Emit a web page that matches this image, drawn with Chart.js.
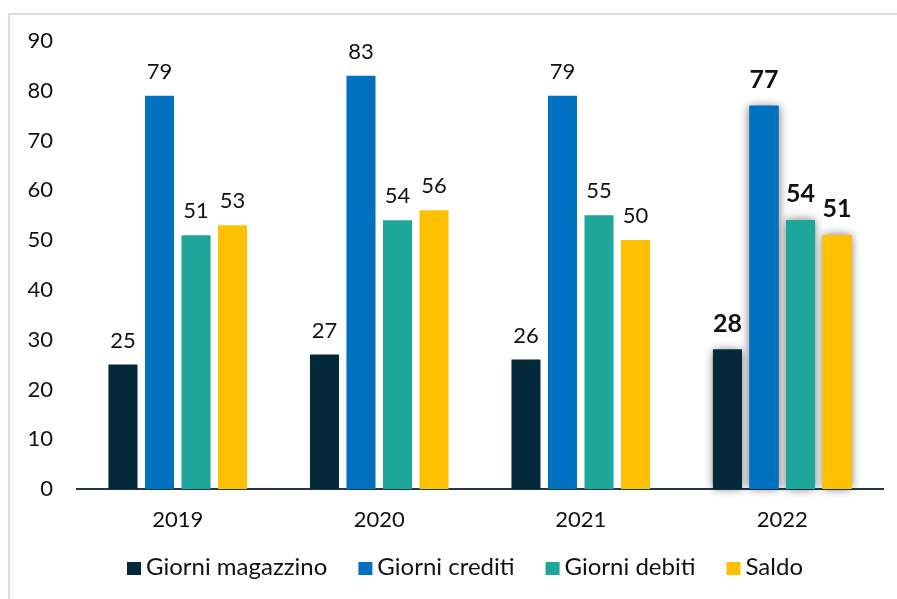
<!DOCTYPE html>
<html>
<head>
<meta charset="utf-8">
<script src="https://cdn.jsdelivr.net/npm/chart.js@4.4.1/dist/chart.umd.min.js"></script>
<style>
  html, body { margin: 0; padding: 0; background: #fff; }
  #wrap { position: relative; width: 897px; height: 599px; overflow: hidden; }
  #frame { position: absolute; left: 8px; top: 13px; width: 1000px; height: 700px;
           border-left: 2px solid #d8dde8; border-top: 2px solid #d8dde8; }
  canvas { position: absolute; left: 0; top: 0; }
</style>
</head>
<body>
<div id="wrap">
  <div id="frame"></div>
  <canvas id="chart" width="897" height="599"></canvas>
</div>
<script>
// dati
const anni = ["2019", "2020", "2021", "2022"];
const giorniMagazzino = [25, 27, 26, 28];
const giorniCrediti = [79, 83, 79, 77];
const giorniDebiti = [51, 54, 55, 54];
const saldo = [53, 56, 50, 51];
const yTicks = [0, 10, 20, 30, 40, 50, 60, 70, 80, 90];

const colori = ["#03283a", "#0070c0", "#1fa69b", "#ffc000"];
const evidenziato = 3; // 2022 in grassetto con ombra

// ombra sulle barre del 2022
const ombraPlugin = {
  id: "ombra",
  beforeDatasetsDraw(chart) {
    const ctx = chart.ctx;
    chart.data.datasets.forEach((ds, i) => {
      const bar = chart.getDatasetMeta(i).data[evidenziato];
      if (!bar) return;
      const p = bar.getProps(["x", "y", "base", "width"], true);
      ctx.save();
      ctx.shadowColor = "rgba(0,0,0,0.55)";
      ctx.shadowBlur = 9;
      ctx.fillStyle = ds.backgroundColor;
      ctx.fillRect(p.x - p.width / 2, p.y, p.width, p.base - p.y);
      ctx.restore();
    });
  }
};

// etichette dei valori
const etichettePlugin = {
  id: "etichette",
  afterDatasetsDraw(chart) {
    const ctx = chart.ctx;
    ctx.save();
    ctx.textAlign = "center";
    ctx.textBaseline = "alphabetic";
    ctx.fillStyle = "#111";
    chart.data.datasets.forEach((ds, i) => {
      chart.getDatasetMeta(i).data.forEach((bar, j) => {
        ctx.font = j === evidenziato ? "bold 25px Lato" : "22px Lato";
        ctx.fillText(ds.data[j], bar.x, bar.y - (j === evidenziato ? 18 : 17));
      });
    });
    ctx.restore();
  }
};

// legenda in basso
const legendaPlugin = {
  id: "legenda",
  afterDraw(chart) {
    const ctx = chart.ctx;
    let x = 127;
    ctx.save();
    ctx.font = "24px Lato";
    ctx.textBaseline = "alphabetic";
    chart.data.datasets.forEach(ds => {
      ctx.fillStyle = ds.backgroundColor;
      ctx.fillRect(x, 562, 14, 13);
      x += 19;
      ctx.fillStyle = "#111";
      ctx.fillText(ds.label, x, 575);
      x += ctx.measureText(ds.label).width + 31;
    });
    ctx.restore();
  }
};

new Chart(document.getElementById("chart"), {
  type: "bar",
  data: {
    labels: anni,
    datasets: [
      { label: "Giorni magazzino", data: giorniMagazzino, backgroundColor: colori[0] },
      { label: "Giorni crediti", data: giorniCrediti, backgroundColor: colori[1] },
      { label: "Giorni debiti", data: giorniDebiti, backgroundColor: colori[2] },
      { label: "Saldo", data: saldo, backgroundColor: colori[3] }
    ]
  },
  options: {
    responsive: false,
    animation: false,
    devicePixelRatio: 1,
    datasets: { bar: { categoryPercentage: 0.725, barPercentage: 0.795 } },
    layout: { padding: { top: 41, right: 14, left: 0, bottom: 60 } },
    scales: {
      x: {
        grid: { display: false, drawTicks: false },
        border: { display: true, color: "#1f3a4d", width: 2 },
        ticks: { color: "#111", font: { family: "Lato", size: 22 }, padding: 18 },
        afterFit: s => { s.height = 50; }
      },
      y: {
        min: 0,
        max: 90,
        afterBuildTicks: s => { s.ticks = yTicks.map(v => ({ value: v })); },
        grid: { display: false, drawTicks: false },
        border: { display: false },
        ticks: { color: "#111", font: { family: "Lato", size: 22 }, padding: 24 },
        afterFit: s => { s.width = 77; }
      }
    },
    plugins: {
      tooltip: { enabled: false },
      legend: { display: false }
    }
  },
  plugins: [ombraPlugin, etichettePlugin, legendaPlugin]
});
</script>
</body>
</html>
